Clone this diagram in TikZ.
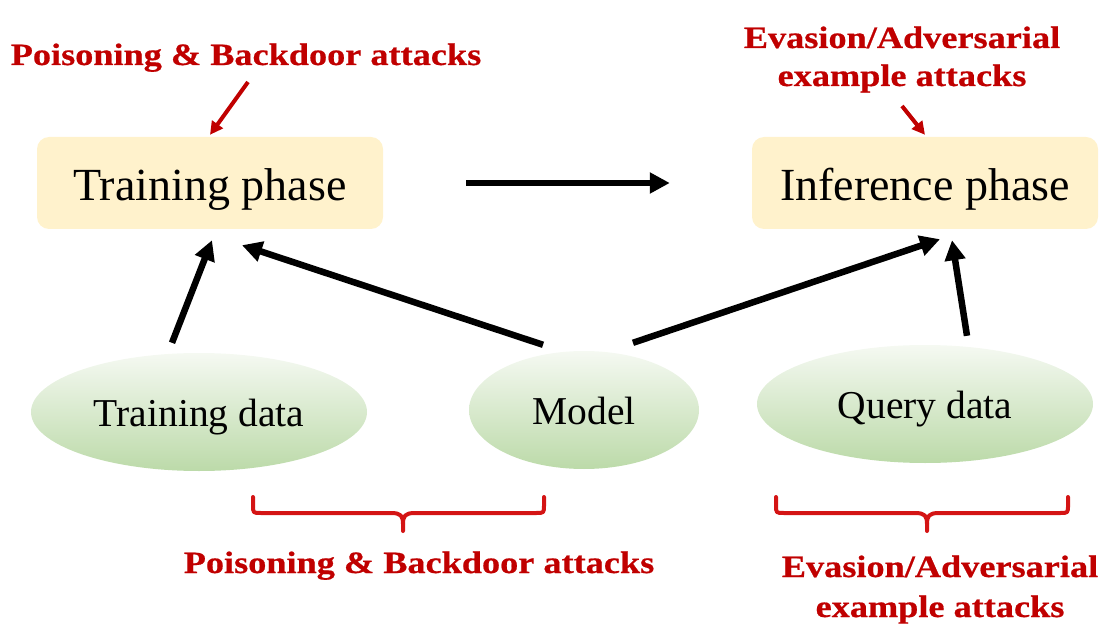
\documentclass[tikz,border=0pt]{standalone}
\usepackage{fontspec}
\setmainfont{Liberation Serif}
\newfontfamily\redfont[FakeStretch=1.17,FakeBold=0.6]{Liberation Serif}
\usetikzlibrary{shapes.geometric,arrows.meta,calc}
\definecolor{boxfill}{HTML}{FFF2CC}
\definecolor{gtop}{HTML}{F5F9F2}
\definecolor{gbot}{HTML}{BCDAA9}
\definecolor{atk}{HTML}{C00000}
\definecolor{brc}{HTML}{D41414}
\begin{document}
\begin{tikzpicture}[x=1pt,y=-1pt,
 phasebox/.style={fill=boxfill, rounded corners=12pt, minimum width=346pt, minimum height=92pt, inner sep=0pt, text height=45pt, text depth=10pt, font=\fontsize{46}{50}\selectfont},
 dataell/.style={ellipse, top color=gtop, bottom color=gbot, minimum height=118pt, inner sep=0pt, text height=38pt, text depth=9pt, font=\fontsize{39.5}{44}\selectfont},
 atktext/.style={text=atk, font=\redfont\bfseries\fontsize{31}{34}\selectfont, inner sep=0pt, anchor=base},
 bigarrow/.style={line width=6.5pt, -{Triangle[length=20pt,width=20pt]}},
 redarrow/.style={draw=atk, line width=4pt, -{Triangle[length=13pt,width=13pt]}},
 bracestyle/.style={draw=brc, line width=4pt, line cap=round, line join=round}
]
\useasboundingbox (0,0) rectangle (1116,644);

\node[phasebox] (tp) at (210,183) {Training phase};
\node[phasebox] (ip) at (925,183) {Inference phase};
\node[dataell, minimum width=336pt] (td) at (199,412) {Training data};
\node[dataell, minimum width=230pt] (md) at (584,410) {Model};
\node[dataell, minimum width=336pt] (qd) at (925,404) {Query data};

\draw[bigarrow] ($(tp.east)+(83,0)$) -- ($(ip.west)+(-82,0)$);
\draw[bigarrow] ($(td.north)+(-27,-10)$) -- ($(tp.south)+(2,11)$);
\draw[bigarrow] ($(md.north)+(-41,-6)$) -- ($(tp.south)+(32,16)$);
\draw[bigarrow] ($(md.north)+(49,-8)$) -- ($(ip.south)+(15,10)$);
\draw[bigarrow] ($(qd.north)+(42,-9)$) -- ($(ip.south)+(27,11)$);

\node[atktext] (pt) at (246,65) {Poisoning \& Backdoor attacks};
\node[atktext] (et1) at (902,48) {Evasion/Adversarial};
\node[atktext] (et2) at (902,86) {example attacks};
\node[atktext] (pb) at (419,573) {Poisoning \& Backdoor attacks};
\node[atktext] (eb1) at (940,577) {Evasion/Adversarial};
\node[atktext] (eb2) at (940,617) {example attacks};

\draw[redarrow] ($(pt.base)+(2,17)$) -- ($(tp.north)+(0,-2)$);
\draw[redarrow] ($(et2.base)+(0,20)$) -- ($(ip.north)+(0,-2)$);

\draw[bracestyle] (253,497) -- (253,505) .. controls (253,513) .. (261,513) -- (391,513) .. controls (401,513) and (403,516) .. (403,524) -- (403,531);
\draw[bracestyle] (544,497) -- (544,505) .. controls (544,513) .. (536,513) -- (415,513) .. controls (405,513) and (403,516) .. (403,524);
\draw[bracestyle] (776,497) -- (776,505) .. controls (776,513) .. (784,513) -- (915,513) .. controls (925,513) and (927,516) .. (927,524) -- (927,531);
\draw[bracestyle] (1068,497) -- (1068,505) .. controls (1068,513) .. (1060,513) -- (939,513) .. controls (929,513) and (927,516) .. (927,524);
\end{tikzpicture}
\end{document}
